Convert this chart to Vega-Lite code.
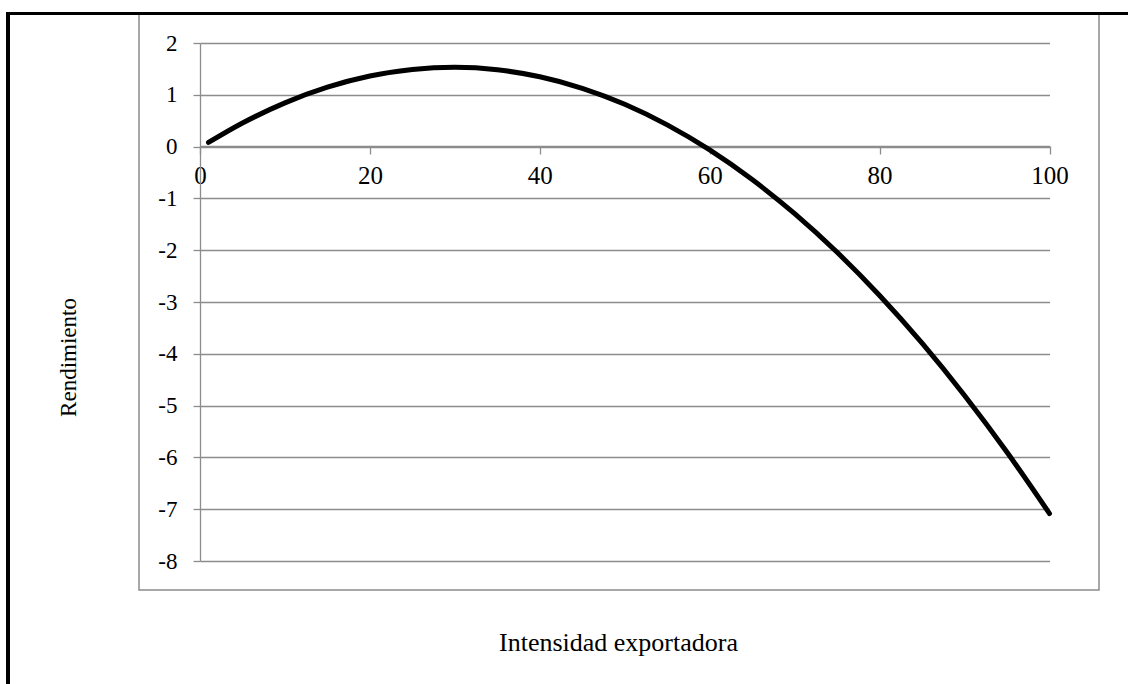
{
  "$schema": "https://vega.github.io/schema/vega-lite/v6.json",
  "width": 960,
  "height": 576,
  "autosize": {"type": "none"},
  "padding": {"left": 139, "top": 14, "right": 29, "bottom": 94},
  "background": "white",
  "config": {
    "font": "Liberation Serif",
    "view": {"stroke": "#8c8c8c", "strokeWidth": 1.5},
    "axis": {"labelFont": "Liberation Serif", "titleFont": "Liberation Serif", "labelColor": "black", "titleColor": "black", "titleFontWeight": "normal"}
  },
  "data": {
    "values": [
      {"x": 1, "y": 0.08},
      {"x": 5, "y": 0.455},
      {"x": 10, "y": 0.845},
      {"x": 15, "y": 1.147},
      {"x": 20, "y": 1.362},
      {"x": 25, "y": 1.49},
      {"x": 30, "y": 1.53},
      {"x": 35, "y": 1.483},
      {"x": 40, "y": 1.348},
      {"x": 45, "y": 1.126},
      {"x": 50, "y": 0.817},
      {"x": 55, "y": 0.42},
      {"x": 60, "y": -0.064},
      {"x": 65, "y": -0.636},
      {"x": 70, "y": -1.295},
      {"x": 75, "y": -2.041},
      {"x": 80, "y": -2.875},
      {"x": 85, "y": -3.796},
      {"x": 90, "y": -4.805},
      {"x": 95, "y": -5.901},
      {"x": 100, "y": -7.084}
    ]
  },
  "encoding": {
    "x": {
      "field": "x",
      "type": "quantitative",
      "scale": {"domain": [0, 100], "range": [61, 910.5], "nice": false, "zero": false},
      "axis": {
        "values": [0, 20, 40, 60, 80, 100],
        "orient": "bottom",
        "offset": -444,
        "grid": false,
        "domainColor": "#8c8c8c",
        "domainWidth": 1.3,
        "tickColor": "#8c8c8c",
        "tickWidth": 1.3,
        "tickSize": 8,
        "labelFontSize": 25,
        "labelPadding": 9,
        "labelFlush": false,
        "labelOverlap": false,
        "title": "Intensidad exportadora",
        "titleFontSize": 26,
        "titleX": 479,
        "titleY": 504,
        "titleAnchor": null,
        "titleAlign": "center",
        "titleBaseline": "alphabetic"
      }
    },
    "y": {
      "field": "y",
      "type": "quantitative",
      "scale": {"domain": [-8, 2], "range": [547, 29], "nice": false, "zero": false},
      "axis": {
        "values": [-8, -7, -6, -5, -4, -3, -2, -1, 0, 1, 2],
        "labelExpr": "toString(datum.value)",
        "orient": "left",
        "offset": -61,
        "grid": true,
        "gridColor": "#8c8c8c",
        "gridWidth": 1.3,
        "domainColor": "#8c8c8c",
        "domainWidth": 1.3,
        "tickColor": "#8c8c8c",
        "tickWidth": 1.3,
        "tickSize": 7,
        "labelFontSize": 23,
        "labelPadding": 16,
        "labelFlush": false,
        "labelOverlap": false,
        "title": "Rendimiento",
        "titleFontSize": 23,
        "titleX": -132,
        "titleY": 343,
        "titleAngle": -90,
        "titleAlign": "center",
        "titleBaseline": "middle"
      }
    }
  },
  "layer": [
    {
      "mark": {"type": "line", "color": "black", "strokeWidth": 5, "strokeCap": "round", "interpolate": "monotone"}
    },
    {
      "mark": {"type": "rule", "color": "black", "strokeWidth": 3},
      "encoding": {
        "x": {"datum": -22.6},
        "x2": {"datum": 109.5},
        "y": {"datum": 2.5695},
        "y2": null
      }
    },
    {
      "mark": {"type": "rule", "color": "black", "strokeWidth": 3},
      "encoding": {
        "x": {"datum": -22.6},
        "y": {"datum": 2.598},
        "y2": {"datum": -10.6}
      }
    }
  ]
}
